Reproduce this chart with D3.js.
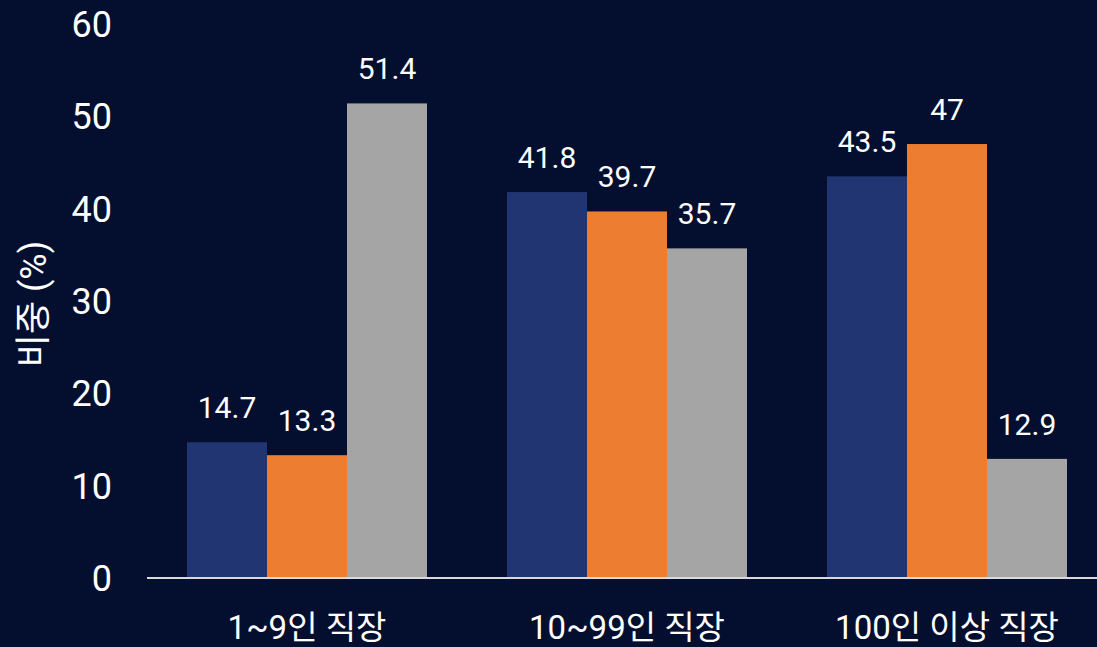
<!DOCTYPE html>
<html>
<head>
<meta charset="utf-8">
<script src="https://cdn.jsdelivr.net/npm/d3@7"></script>
<style>
  html, body { margin: 0; padding: 0; background: #040f2f; }
  svg { display: block; }
  text { font-family: Roboto, "Noto Sans CJK KR", sans-serif; fill: #ffffff; }
</style>
</head>
<body>
<svg id="chart" width="1097" height="647"></svg>
<script>
// Workplace size groups and the share (%) for each of three series
const categories = ["1~9인 직장", "10~99인 직장", "100인 이상 직장"];
const seriesKeys = ["s1", "s2", "s3"];
const seriesA = [14.7, 41.8, 43.5];
const seriesB = [13.3, 39.7, 47];
const seriesC = [51.4, 35.7, 12.9];
const yTicks = [0, 10, 20, 30, 40, 50, 60];
const yTitle = "비중 (%)";

const colors = ["#213572", "#ed7d31", "#a5a5a5"];

const rows = categories.map((c, i) => ({
  category: c,
  values: [seriesA[i], seriesB[i], seriesC[i]]
}));

const svg = d3.select("#chart");
const W = 1097, H = 647;
const baseY = 578, topY = 24;

svg.append("rect").attr("width", W).attr("height", H).attr("fill", "#040f2f");

const x0 = d3.scaleBand().domain(categories).range([147, 1107])
  .paddingInner(0.25).paddingOuter(0.125);
const x1 = d3.scaleBand().domain(seriesKeys).range([0, x0.bandwidth()]).padding(0);
const y = d3.scaleLinear().domain([0, 60]).range([baseY, topY]);

// y tick labels
svg.append("g").selectAll("text").data(yTicks).join("text")
  .attr("x", 112).attr("y", d => y(d)).attr("dy", "0.36em")
  .attr("text-anchor", "end").attr("font-size", 36)
  .text(d => d);

// y axis title
svg.append("text")
  .attr("transform", `translate(46,304) rotate(-90)`)
  .attr("text-anchor", "middle").attr("font-size", 36)
  .text(yTitle);

// bars
const groups = svg.append("g").selectAll("g").data(rows).join("g")
  .attr("transform", d => `translate(${x0(d.category)},0)`);

groups.selectAll("rect").data(d => d.values.map((v, i) => ({ key: seriesKeys[i], v, i })))
  .join("rect")
  .attr("x", d => x1(d.key)).attr("width", x1.bandwidth())
  .attr("y", d => y(d.v)).attr("height", d => baseY - y(d.v))
  .attr("fill", d => colors[d.i]);

groups.selectAll("text.val").data(d => d.values.map((v, i) => ({ key: seriesKeys[i], v, i })))
  .join("text").attr("class", "val")
  .attr("x", d => x1(d.key) + x1.bandwidth() / 2)
  .attr("y", d => y(d.v) - 24)
  .attr("text-anchor", "middle").attr("font-size", 30)
  .text(d => d.v);

// baseline
svg.append("line").attr("x1", 147).attr("x2", W)
  .attr("y1", baseY).attr("y2", baseY)
  .attr("stroke", "#d9d9d9").attr("stroke-width", 2);

// category labels
svg.append("g").selectAll("text").data(categories).join("text")
  .attr("x", d => x0(d) + x0.bandwidth() / 2).attr("y", 639)
  .attr("text-anchor", "middle").attr("font-size", 33)
  .text(d => d);
</script>
</body>
</html>
